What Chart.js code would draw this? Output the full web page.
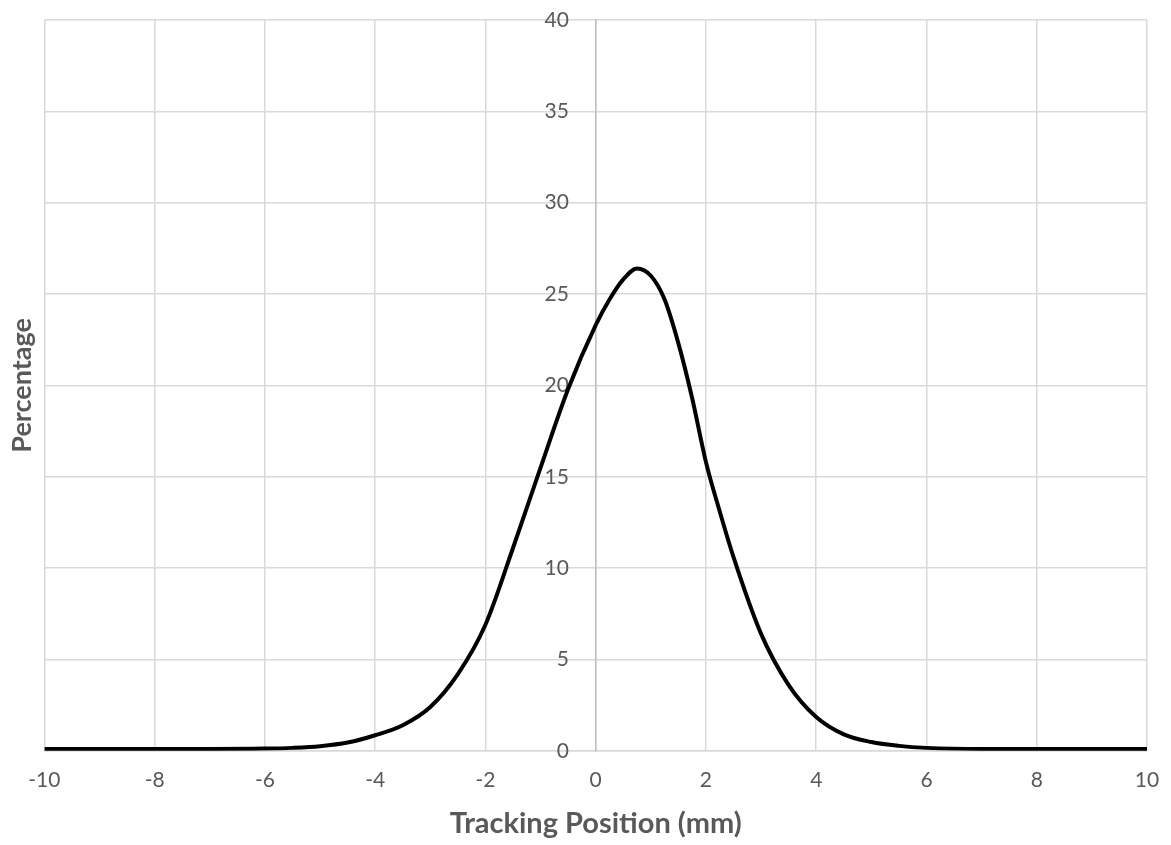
<!DOCTYPE html>
<html>
<head>
<meta charset="utf-8">
<script src="https://cdn.jsdelivr.net/npm/chart.js@4/dist/chart.umd.min.js"></script>
<style>
  html, body { margin: 0; padding: 0; background: #ffffff; }
  #wrap { width: 1171px; height: 845px; position: relative; }
</style>
</head>
<body>
<div id="wrap"><canvas id="c"></canvas></div>
<script>
// Tracking position (mm) and percentage values
const positions = [-10, -9, -8, -7, -6, -5.5, -5, -4.5, -4, -3.5, -3, -2.5, -2, -1.5, -1, -0.5, 0, 0.25, 0.5, 0.75, 1, 1.25, 1.5, 1.75, 2, 2.25, 2.5, 3, 3.5, 4, 4.5, 5, 5.5, 6, 7, 8, 9, 10];
const percentages = [0.1, 0.1, 0.1, 0.1, 0.12, 0.16, 0.25, 0.45, 0.85, 1.4, 2.4, 4.2, 6.9, 11.1, 15.5, 19.8, 23.3, 24.7, 25.8, 26.4, 26.0, 24.7, 22.3, 19.3, 15.8, 13.1, 10.6, 6.4, 3.6, 1.85, 0.9, 0.48, 0.27, 0.16, 0.1, 0.1, 0.1, 0.1];
const xTicks = [-10, -8, -6, -4, -2, 0, 2, 4, 6, 8, 10];
const yTicks = [0, 5, 10, 15, 20, 25, 30, 35, 40];
const xTitle = 'Tracking Position (mm)';
const yTitle = 'Percentage';

const points = positions.map((x, i) => ({ x: x, y: percentages[i] }));
const textColor = '#595959';
const gridColor = '#d9d9d9';
const fontFamily = 'Lato, "Open Sans", "Liberation Sans", sans-serif';

new Chart(document.getElementById('c'), {
  type: 'scatter',
  data: {
    datasets: [{
      data: points,
      showLine: true,
      borderColor: '#000000',
      borderWidth: 4,
      pointRadius: 0,
      pointHoverRadius: 0,
      cubicInterpolationMode: 'monotone',
      fill: false
    }]
  },
  options: {
    responsive: true,
    maintainAspectRatio: false,
    animation: false,
    layout: { padding: { top: 20, right: 24, bottom: 7, left: 4 } },
    plugins: { legend: { display: false }, tooltip: { enabled: false } },
    scales: {
      x: {
        type: 'linear',
        min: xTicks[0],
        max: xTicks[xTicks.length - 1],
        afterBuildTicks: (axis) => { axis.ticks = xTicks.map(v => ({ value: v })); },
        afterFit: (scale) => { scale.paddingRight = 0; scale.paddingLeft = 0; },
        ticks: { color: textColor, font: { family: fontFamily, size: 21 }, padding: 16.5, maxRotation: 0 },
        grid: { color: gridColor, lineWidth: 1.5, drawTicks: false },
        border: { color: gridColor, width: 1.5 },
        title: { display: true, text: xTitle, color: textColor, font: { family: fontFamily, size: 29, weight: 'bold', lineHeight: 1.0 }, padding: { top: 0, bottom: 0 } }
      },
      y: {
        type: 'linear',
        position: { x: 0 },
        min: yTicks[0],
        max: yTicks[yTicks.length - 1],
        afterBuildTicks: (axis) => { axis.ticks = yTicks.map(v => ({ value: v })); },
        ticks: { color: textColor, font: { family: fontFamily, size: 21 }, callback: (v) => v + '     ' },
        grid: { color: gridColor, lineWidth: 1.5, drawTicks: false },
        border: { color: '#bfbfbf', width: 1.5 }
      },
      yTitleAxis: {
        type: 'linear',
        position: 'left',
        min: 0,
        max: 40,
        ticks: { display: false },
        grid: { display: false, drawTicks: false },
        border: { display: false },
        title: { display: true, text: yTitle, color: textColor, font: { family: fontFamily, size: 27, weight: 'bold' }, padding: { top: 2, bottom: 6 } }
      }
    }
  }
});
</script>
</body>
</html>
